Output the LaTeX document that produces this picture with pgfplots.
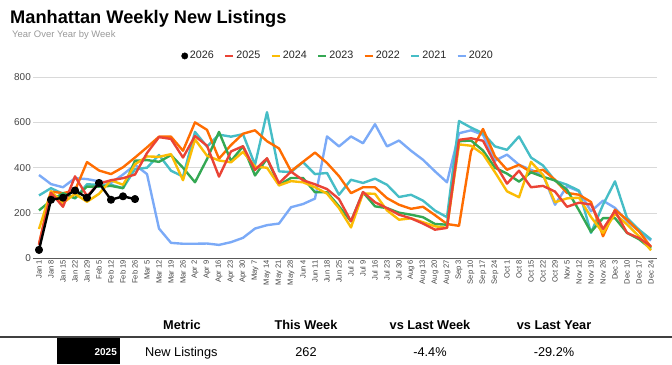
\documentclass[border=0pt]{standalone}
\usepackage{pgfplots}
\usepackage{pgfplotstable}
\pgfplotsset{compat=1.18}
\usepackage{fontspec}
\setmainfont{Liberation Sans}
\definecolor{c25}{HTML}{EA4335}
\definecolor{c24}{HTML}{FBBC04}
\definecolor{c23}{HTML}{34A853}
\definecolor{c22}{HTML}{FF6D01}
\definecolor{c21}{HTML}{46BDC6}
\definecolor{c20}{HTML}{7BAAF7}
\definecolor{gridc}{HTML}{D9D9D9}
\definecolor{txt}{HTML}{444444}

\pgfplotstableread{
i y20 y21 y22 y23 y24 y25
0 368 278 65 212 130 60
1 328 310 295 255 296 290
2 314 285 288 288 245 228
3 354 265 300 266 285 362
4 350 327 425 317 250 275
5 340 325 388 317 285 330
6 333 325 372 320 345 345
7 370 310 402 310 325 354
8 413 394 445 431 415 370
9 372 400 490 434 450 465
10 132 456 537 426 448 535
11 69 387 537 456 460 527
12 65 361 475 400 345 445
13 65 558 600 336 525 540
14 66 493 567 438 453 497
15 60 546 440 558 432 361
16 72 537 500 430 424 472
17 91 548 550 494 470 495
18 132 413 565 366 405 390
19 147 645 517 440 400 442
20 154 384 485 324 322 332
21 226 381 385 355 341 383
22 240 425 426 355 336 345
23 264 372 467 292 314 327
24 538 377 421 292 286 306
25 494 281 363 230 222 262
26 538 347 288 164 137 164
27 508 333 314 292 287 293
28 592 352 314 230 285 248
29 494 325 266 222 212 222
30 520 271 237 202 171 193
31 475 281 219 193 177 177
32 435 255 228 182 160 154
33 384 211 191 152 142 127
34 336 182 152 149 135 135
35 552 606 144 517 503 523
36 565 577 472 520 497 530
37 545 552 571 476 460 519
38 431 494 450 400 380 418
39 458 479 391 374 296 330
40 413 538 413 339 270 387
41 391 445 381 380 426 314
42 369 410 391 360 368 320
43 237 343 347 344 248 295
44 318 325 289 303 265 228
45 296 299 281 212 268 246
46 208 113 249 117 183 238
47 255 237 98 178 113 130
48 223 340 215 178 197 210
49 164 179 171 113 150 113
50 120 127 120 85 98 90
51 79 84 50 43 36 54
}\data

\pgfplotstableread{
i y
0 38
1 259
2 268
3 300
4 268
5 333
6 259
7 274
8 262
}\cur

\pgfplotsset{shortline/.style={legend image code/.code={\draw[##1,line width=2.6pt] (0bp,0bp) -- (8bp,0bp);}}}

\begin{document}
\begin{tikzpicture}[x=1bp,y=1bp]
\path[use as bounding box] (0,0) rectangle (672,364);
\node[anchor=base west, inner sep=0pt, font=\fontsize{18.3}{20}\selectfont\bfseries] at (10,341) {Manhattan Weekly New Listings};
\node[anchor=base west, inner sep=0pt, text=black!40, font=\fontsize{9.5}{11}\selectfont] at (12,327) {Year Over Year by Week};
\begin{axis}[
  at={(33bp,105.5bp)}, anchor=south west,
  width=624bp, height=181.5bp, scale only axis,
  xmin=-0.5, xmax=51.5, ymin=0, ymax=800,
  ytick={0,200,400,600,800},
  xtick={0,...,51},
  xticklabels={Jan 1, Jan 8, Jan 15, Jan 22, Jan 29, Feb 5, Feb 12, Feb 19, Feb 26, Mar 5, Mar 12, Mar 19, Mar 26, Apr 2, Apr 9, Apr 16, Apr 23, Apr 30, May 7, May 14, May 21, May 28, Jun 4, Jun 11, Jun 18, Jun 25, Jul 2, Jul 9, Jul 16, Jul 23, Jul 30, Aug 6, Aug 13, Aug 20, Aug 27, Sep 3, Sep 10, Sep 17, Sep 24, Oct 1, Oct 8, Oct 15, Oct 22, Oct 29, Nov 5, Nov 12, Nov 19, Nov 26, Dec 3, Dec 10, Dec 17, Dec 24},
  axis line style={draw=none},
  tick style={draw=none},
  ymajorgrids, grid style={gridc, line width=0.8pt},
  extra y ticks={0}, extra y tick labels={},
  extra y tick style={grid style={black!65, line width=1pt}},
  xticklabel style={rotate=90, anchor=east, inner sep=1.5pt, font=\fontsize{7.6}{8}\selectfont, text=txt},
  yticklabel style={font=\fontsize{10}{11}\selectfont, text=txt, inner sep=2pt},
  /pgf/number format/assume math mode=true,
  legend columns=7,
  legend style={at={(0.489,1.116)}, anchor=center, draw=none, fill=none,
    font=\fontsize{10.8}{12}\selectfont, text=black!85,
    /tikz/every even column/.append style={column sep=8pt}},
  legend cell align=left,
  line join=round,
]
\addlegendimage{black, only marks, mark=*, mark size=3.2bp}
\addlegendentry{2026}
\addlegendimage{c25, shortline}
\addlegendentry{2025}
\addlegendimage{c24, shortline}
\addlegendentry{2024}
\addlegendimage{c23, shortline}
\addlegendentry{2023}
\addlegendimage{c22, shortline}
\addlegendentry{2022}
\addlegendimage{c21, shortline}
\addlegendentry{2021}
\addlegendimage{c20, shortline}
\addlegendentry{2020}
\addplot[c20, line width=2.4pt, forget plot] table[x=i, y=y20] {\data};
\addplot[c21, line width=2.4pt, forget plot] table[x=i, y=y21] {\data};
\addplot[c22, line width=2.4pt, forget plot] table[x=i, y=y22] {\data};
\addplot[c23, line width=2.4pt, forget plot] table[x=i, y=y23] {\data};
\addplot[c24, line width=2.4pt, forget plot] table[x=i, y=y24] {\data};
\addplot[c25, line width=2.4pt, forget plot] table[x=i, y=y25] {\data};
\addplot[black, line width=2.4pt, mark=*, mark size=2.8bp, forget plot] table[x=i, y=y] {\cur};
\end{axis}
\node[anchor=base, font=\fontsize{12.8}{14}\selectfont\bfseries] at (182,35) {Metric};
\node[anchor=base, font=\fontsize{12.8}{14}\selectfont\bfseries] at (306,35) {This Week};
\node[anchor=base, font=\fontsize{12.8}{14}\selectfont\bfseries] at (430,35) {vs Last Week};
\node[anchor=base, font=\fontsize{12.8}{14}\selectfont\bfseries] at (554,35) {vs Last Year};
\draw[black!75, line width=1.2pt] (0,27) -- (672,27);
\fill[black] (57,0) rectangle (120,26);
\node[anchor=base east, inner sep=0pt, text=white, font=\fontsize{10}{11}\selectfont\bfseries] at (117,9) {2025};
\node[anchor=base west, inner sep=0pt, font=\fontsize{12.8}{14}\selectfont] at (145,8) {New Listings};
\node[anchor=base, inner sep=0pt, font=\fontsize{12.8}{14}\selectfont] at (306,8) {262};
\node[anchor=base, inner sep=0pt, font=\fontsize{12.8}{14}\selectfont] at (430,8) {-4.4\%};
\node[anchor=base, inner sep=0pt, font=\fontsize{12.8}{14}\selectfont] at (554,8) {-29.2\%};
\end{tikzpicture}
\end{document}
